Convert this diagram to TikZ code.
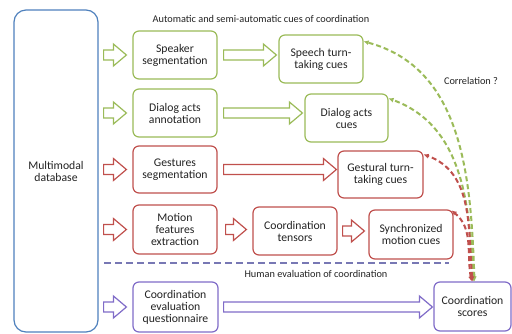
\documentclass[tikz,border=0pt]{standalone}
\usepackage{fontspec}
\setmainfont{Carlito}
\usetikzlibrary{calc,arrows.meta}
\definecolor{cgreen}{RGB}{155,187,89}
\definecolor{cred}{RGB}{192,80,77}
\definecolor{cviolet}{RGB}{128,108,200}
\definecolor{cblue}{RGB}{79,129,189}
\definecolor{cdash}{RGB}{120,120,180}
\definecolor{ctext}{RGB}{35,35,35}

% hollow block arrow: [colour]{start}{end}, drawn horizontally at the start's height
\newcommand\hollowarrow[3]{%
  \draw[#1, line width=1.2pt, fill=white, line join=miter]
    let \p1=#2, \p2=#3 in
    (\x1,\y1+5pt) -- (\x2-13pt,\y1+5pt) -- (\x2-13pt,\y1+11pt) -- (\x2,\y1)
    -- (\x2-13pt,\y1-11pt) -- (\x2-13pt,\y1-5pt) -- (\x1,\y1-5pt) -- cycle;}

\begin{document}
\begin{tikzpicture}[x=1pt,y=-1pt,
  box/.style={draw, line width=1.2pt, rounded corners=6pt, fill=white,
    align=center, font=\fontsize{11.7}{12}\selectfont, text=ctext,
    inner sep=0pt, minimum width=84pt, minimum height=48pt},
  greenbox/.style={box, draw=cgreen},
  redbox/.style={box, draw=cred},
  violetbox/.style={box, draw=cviolet},
  caption/.style={font=\fontsize{10.3}{12}\selectfont, text=ctext, inner sep=0pt},
  corr/.style={line width=2pt, dash pattern=on 5pt off 3pt,
    {Latex[length=5pt,width=5pt]}-{Latex[length=5pt,width=5pt]}}]

\useasboundingbox (0,0) rectangle (512,333);
\fill[white] (0,0) rectangle (512,333);

% source
\node[box, draw=cblue, rounded corners=12pt, minimum width=84pt, minimum height=322pt]
  (mm) at (56,171) {Multimodal\\database};

% processing steps
\node[greenbox] (spk) at (175,55) {Speaker\\segmentation};
\node[greenbox] (dlg) at (175,113) {Dialog acts\\annotation};
\node[redbox, minimum height=47pt] (ges) at (175,169.5) {Gestures\\segmentation};
\node[redbox, minimum height=49pt] (mot) at (175,229.5) {Motion\\features\\extraction};
\node[violetbox, minimum width=85pt, minimum height=50pt] (que) at (175.5,307)
  {Coordination\\evaluation\\questionnaire};

% cues
\node[greenbox] (stc) at (321,59) {Speech turn-\\taking cues};
\node[greenbox, minimum width=83pt] (dac) at (346.5,118) {Dialog acts\\cues};
\node[redbox, minimum width=85pt, minimum height=47pt] (gtc) at (380.5,174.5) {Gestural turn-\\taking cues};
\node[redbox] (ten) at (295,231) {Coordination\\tensors};
\node[redbox, minimum height=49pt] (smc) at (411,234.5) {Synchronized\\motion cues};
\node[violetbox, minimum width=77pt, minimum height=49pt] (sco) at (472.5,306.5)
  {Coordination\\scores};

% captions
\node[caption] (tauto) at (261,19) {Automatic and semi-automatic cues of coordination};
\node[caption] (thum) at (316,274) {Human evaluation of coordination};
\node[caption] (tcorr) at (471,81) {Correlation ?};

% separator between automatic and human evaluation
\coordinate (sepL) at (104,263);
\coordinate (sepR) at (449,263);
\draw[cdash, line width=2pt, dash pattern=on 7pt off 4pt] (sepL) -- (sepR);

% arrows from the database
\hollowarrow{cgreen}{($(mm.east |- spk.west)+(5,0)$)}{($(spk.west)+(-6,0)$)}
\hollowarrow{cgreen}{($(mm.east |- dlg.west)+(5,0)$)}{($(dlg.west)+(-6,0)$)}
\hollowarrow{cred}{($(mm.east |- ges.west)+(5,0)$)}{($(ges.west)+(-6,0)$)}
\hollowarrow{cred}{($(mm.east |- mot.west)+(5,0)$)}{($(mot.west)+(-6,0)$)}
\hollowarrow{cviolet}{($(mm.east |- que.west)+(5,0)$)}{($(que.west)+(-6,0)$)}

% arrows from steps to cues
\hollowarrow{cgreen}{($(spk.east)+(6,0)$)}{($(stc.west)+(-2,0)$)}
\hollowarrow{cgreen}{($(dlg.east)+(6,0)$)}{($(dac.west)+(-2,0)$)}
\hollowarrow{cred}{($(ges.east)+(6,0)$)}{($(gtc.west)+(-1,0)$)}
\hollowarrow{cred}{($(mot.east)+(8,0)$)}{($(ten.west)+(-6,0)$)}
\hollowarrow{cred}{($(ten.east)+(5,0)$)}{($(smc.west)+(-4,0)$)}
\hollowarrow{cviolet}{($(que.east)+(5,0)$)}{($(sco.west)+(-1,0)$)}

% correlation links
\draw[corr, cgreen] ($(sco.north)+(2,0)$) to[out=92, in=-15] ($(stc.north east)+(0,7)$);
\draw[corr, cgreen] ($(sco.north)+(1,0)$) to[out=93, in=-20] ($(dac.north east)+(0,5)$);
\draw[corr, cred] ($(sco.north)+(0,0)$) to[out=95, in=-20] ($(gtc.north east)+(0,4)$);
\draw[corr, cred] ($(sco.north)+(-1,0)$) to[out=100, in=-40] ($(smc.north east)+(-2,1)$);
\end{tikzpicture}
\end{document}
